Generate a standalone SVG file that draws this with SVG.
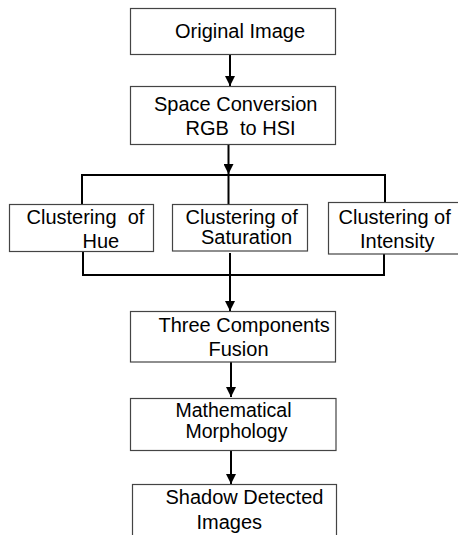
<svg xmlns="http://www.w3.org/2000/svg" width="458" height="535" viewBox="0 0 458 535">
<style>
.box{fill:#fff;stroke:#444;stroke-width:1.2}
.t{font-family:"Liberation Sans",Arial,sans-serif;font-size:20px;fill:#000}
.s{font-size:19.5px}
.c{stroke:#000;stroke-width:2;fill:none}
</style>
<defs>
<marker id="ah" markerWidth="10" markerHeight="10" refX="10" refY="5" orient="auto" markerUnits="userSpaceOnUse">
<path d="M0,0 L10,5 L0,10 z" fill="#000"/>
</marker>
</defs>
<rect width="458" height="535" fill="#fff"/>
<g id="connectors">
<line class="c" x1="230" y1="55" x2="230" y2="86" marker-end="url(#ah)"/>
<line class="c" x1="228.5" y1="144.5" x2="228.5" y2="174" marker-end="url(#ah)"/>
<polyline class="c" points="82,204 82,175 385,175 385,202"/>
<line class="c" x1="228.5" y1="175" x2="228.5" y2="204"/>
<polyline class="c" points="83,252 83,275 384,275 384,254"/>
<line class="c" x1="230" y1="253" x2="230" y2="311" marker-end="url(#ah)"/>
<line class="c" x1="231" y1="362" x2="231" y2="397" marker-end="url(#ah)"/>
<line class="c" x1="231" y1="451" x2="231" y2="484" marker-end="url(#ah)"/>
</g>
<g id="original">
<rect class="box" x="130.5" y="8.5" width="205" height="46"/>
<text class="t" x="175" y="38">Original Image</text>
</g>
<g id="space">
<rect class="box" x="130.5" y="86.5" width="205" height="58"/>
<text class="t" x="154" y="111">Space Conversion</text>
<text class="t" x="185.5" y="135" xml:space="preserve">RGB  to HSI</text>
</g>
<g id="hue">
<rect class="box" x="9.5" y="204.5" width="144" height="47"/>
<text class="t" x="26.5" y="224" xml:space="preserve">Clustering  of</text>
<text class="t" x="82.5" y="247.5">Hue</text>
</g>
<g id="sat">
<rect class="box" x="172.5" y="204.5" width="135" height="46.5"/>
<text class="t" x="185.5" y="224">Clustering of</text>
<text class="t" x="201" y="244">Saturation</text>
</g>
<g id="int">
<rect class="box" x="328.5" y="202.5" width="135" height="51.5"/>
<text class="t" x="338.5" y="224">Clustering of</text>
<text class="t" x="360" y="247.5">Intensity</text>
</g>
<g id="fusion">
<rect class="box" x="130.5" y="311.5" width="205" height="50.5"/>
<text class="t" x="158.5" y="332">Three Components</text>
<text class="t" x="208.5" y="356">Fusion</text>
</g>
<g id="morph">
<rect class="box" x="130.5" y="398.5" width="205.5" height="52"/>
<text class="t s" x="175.5" y="417">Mathematical</text>
<text class="t s" x="185.5" y="437.5">Morphology</text>
</g>
<g id="shadow">
<rect class="box" x="132.5" y="484.5" width="204" height="60"/>
<text class="t" x="165.5" y="504">Shadow Detected</text>
<text class="t" x="196.5" y="528.5">Images</text>
</g>
</svg>
